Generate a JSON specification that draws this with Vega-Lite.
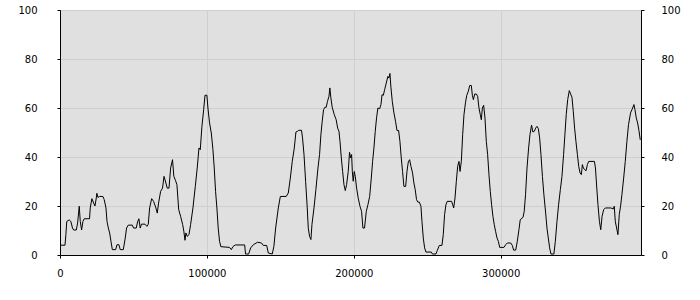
{
  "$schema": "https://vega.github.io/schema/vega-lite/v6.json",
  "width": 581,
  "height": 245,
  "autosize": "none",
  "padding": {"left": 60, "top": 10, "right": 59, "bottom": 45},
  "background": "white",
  "config": {
    "view": {"fill": "#e0e0e0", "stroke": "black", "strokeWidth": 1},
    "axis": {
      "labelFont": "DejaVu Sans",
      "labelFontSize": 10,
      "labelColor": "black",
      "domainColor": "black",
      "tickColor": "black",
      "tickSize": 3,
      "gridColor": "#cfcfcf",
      "gridWidth": 1,
      "title": null
    }
  },
  "data": {"values": [
    {"x":0,"y":4},{"x":3400,"y":4},{"x":4000,"y":8.3},{"x":4600,"y":13.7},{"x":6300,"y":14.3},{"x":7400,"y":13.7},{"x":8500,"y":11},{"x":9300,"y":10.2},{"x":11100,"y":10.2},{"x":12000,"y":13.1},{"x":13100,"y":19.9},{"x":13800,"y":13.7},{"x":14700,"y":10.2},{"x":15600,"y":13.7},{"x":16500,"y":14.8},{"x":20100,"y":14.8},{"x":20600,"y":19.2},{"x":21700,"y":23},{"x":22900,"y":21.2},{"x":23800,"y":20},{"x":24700,"y":23.3},{"x":25100,"y":25.2},{"x":25800,"y":23.5},{"x":26900,"y":23.9},{"x":29200,"y":23.9},{"x":30100,"y":22.6},{"x":31300,"y":19.2},{"x":32000,"y":13.7},{"x":32900,"y":11},{"x":33800,"y":9},{"x":34700,"y":5.6},{"x":35600,"y":2.2},{"x":37900,"y":2.2},{"x":38800,"y":4.2},{"x":40100,"y":4.2},{"x":41000,"y":2.2},{"x":43100,"y":2.2},{"x":44400,"y":6.9},{"x":45300,"y":11},{"x":46500,"y":12.2},{"x":49200,"y":12.2},{"x":50100,"y":11},{"x":51900,"y":11},{"x":52800,"y":13.5},{"x":53700,"y":14.8},{"x":54600,"y":11},{"x":55500,"y":12.6},{"x":57800,"y":12.6},{"x":59200,"y":11.7},{"x":60100,"y":12.6},{"x":61000,"y":19.2},{"x":62400,"y":23},{"x":63700,"y":21.9},{"x":65300,"y":19.2},{"x":66200,"y":17.1},{"x":67100,"y":21.2},{"x":68500,"y":26},{"x":69800,"y":27.3},{"x":70800,"y":32.1},{"x":71900,"y":29.8},{"x":73000,"y":27.3},{"x":74200,"y":27.3},{"x":75300,"y":35.5},{"x":76600,"y":38.9},{"x":77500,"y":32.1},{"x":78700,"y":30.3},{"x":79600,"y":28.7},{"x":80800,"y":18.5},{"x":82100,"y":15.8},{"x":83500,"y":12.4},{"x":84300,"y":9.7},{"x":85100,"y":6},{"x":85700,"y":9},{"x":86600,"y":7.6},{"x":87800,"y":8.3},{"x":88900,"y":12.4},{"x":90500,"y":19.2},{"x":92100,"y":28},{"x":93400,"y":35.5},{"x":94600,"y":43.7},{"x":95500,"y":43},{"x":96600,"y":52.5},{"x":97800,"y":59.3},{"x":98700,"y":65.2},{"x":100000,"y":65.2},{"x":100700,"y":60},{"x":101800,"y":53.9},{"x":103000,"y":49.8},{"x":104100,"y":43},{"x":105000,"y":35.5},{"x":105900,"y":26},{"x":106800,"y":19.2},{"x":107700,"y":11},{"x":108600,"y":5.6},{"x":109500,"y":3.4},{"x":115400,"y":3.1},{"x":116600,"y":2.2},{"x":117700,"y":3.4},{"x":119300,"y":4.1},{"x":125700,"y":4.1},{"x":126300,"y":0.4},{"x":128400,"y":0.4},{"x":129800,"y":2.9},{"x":131600,"y":4.2},{"x":134500,"y":5.2},{"x":137200,"y":4.9},{"x":138400,"y":3.9},{"x":140700,"y":3.9},{"x":141800,"y":0.8},{"x":144500,"y":0.4},{"x":145600,"y":3.5},{"x":146800,"y":11},{"x":148600,"y":19.2},{"x":150000,"y":23.9},{"x":154000,"y":23.9},{"x":155400,"y":25.3},{"x":156800,"y":31.4},{"x":158100,"y":38.2},{"x":159500,"y":43.7},{"x":160600,"y":50.2},{"x":161700,"y":50.5},{"x":162600,"y":50.9},{"x":164400,"y":50.9},{"x":165100,"y":47.8},{"x":166100,"y":41},{"x":167200,"y":30.1},{"x":168300,"y":19.2},{"x":169000,"y":11},{"x":169900,"y":7.6},{"x":170800,"y":6.3},{"x":171500,"y":12.4},{"x":172900,"y":19.2},{"x":174200,"y":26.7},{"x":175600,"y":35.5},{"x":176700,"y":41},{"x":177600,"y":49.1},{"x":178500,"y":54.6},{"x":179400,"y":59.3},{"x":180300,"y":60.3},{"x":181200,"y":60.3},{"x":182100,"y":62.7},{"x":183100,"y":64.8},{"x":183700,"y":68.2},{"x":184400,"y":64.1},{"x":185300,"y":60.3},{"x":186700,"y":57.3},{"x":188000,"y":55.2},{"x":189000,"y":51.8},{"x":189900,"y":50.5},{"x":190600,"y":46.4},{"x":191500,"y":39.6},{"x":192400,"y":34.1},{"x":193300,"y":28.7},{"x":194200,"y":26.3},{"x":195100,"y":28.7},{"x":196200,"y":34.1},{"x":197100,"y":41.9},{"x":197800,"y":39.6},{"x":198500,"y":41},{"x":199000,"y":34.1},{"x":199600,"y":30.1},{"x":200300,"y":34.1},{"x":201000,"y":32.1},{"x":201900,"y":27.3},{"x":203000,"y":23.2},{"x":204200,"y":19.9},{"x":205300,"y":17.8},{"x":206200,"y":11},{"x":207300,"y":11},{"x":208500,"y":17.8},{"x":209600,"y":20.5},{"x":210800,"y":23.9},{"x":211900,"y":31.4},{"x":212800,"y":38.2},{"x":213700,"y":43.7},{"x":214600,"y":50.5},{"x":215500,"y":56},{"x":216400,"y":60},{"x":217600,"y":59.7},{"x":218500,"y":61.4},{"x":219200,"y":65.4},{"x":220100,"y":65.2},{"x":221000,"y":67.5},{"x":222100,"y":70.2},{"x":223200,"y":72.9},{"x":223900,"y":72.2},{"x":224600,"y":74.1},{"x":225300,"y":68.2},{"x":226200,"y":62.7},{"x":227300,"y":58},{"x":228400,"y":54.6},{"x":229400,"y":50.8},{"x":230500,"y":50.8},{"x":231400,"y":46.4},{"x":232300,"y":39.6},{"x":233200,"y":34.1},{"x":234100,"y":28},{"x":235300,"y":28},{"x":236200,"y":34.1},{"x":237100,"y":38},{"x":238000,"y":38.9},{"x":238900,"y":36.2},{"x":240000,"y":33.5},{"x":240900,"y":29.4},{"x":241800,"y":26.7},{"x":242700,"y":22.6},{"x":243600,"y":21.6},{"x":244600,"y":21.6},{"x":245700,"y":19.9},{"x":246400,"y":13.7},{"x":247300,"y":6.9},{"x":248200,"y":2.9},{"x":249100,"y":1.2},{"x":252700,"y":1.2},{"x":253600,"y":0.4},{"x":255900,"y":0.4},{"x":256800,"y":1.8},{"x":258200,"y":3.9},{"x":260000,"y":3.9},{"x":260900,"y":8.3},{"x":261800,"y":16.5},{"x":262700,"y":20.5},{"x":263600,"y":21.9},{"x":266600,"y":21.9},{"x":268000,"y":19.2},{"x":268900,"y":23.3},{"x":269800,"y":30.1},{"x":270700,"y":36.2},{"x":271600,"y":38.2},{"x":272300,"y":34.1},{"x":273200,"y":38.2},{"x":274100,"y":49.1},{"x":275000,"y":57.3},{"x":276000,"y":62.1},{"x":276900,"y":65.2},{"x":278000,"y":66.9},{"x":278900,"y":69.2},{"x":280000,"y":69.2},{"x":280700,"y":65.2},{"x":281400,"y":63.4},{"x":282300,"y":65.7},{"x":283400,"y":65.7},{"x":284300,"y":64.8},{"x":285200,"y":60},{"x":286100,"y":57.3},{"x":286800,"y":55.2},{"x":287500,"y":60},{"x":288400,"y":61.1},{"x":289300,"y":55.9},{"x":290200,"y":46.4},{"x":291100,"y":41},{"x":292000,"y":32.8},{"x":292900,"y":26},{"x":293800,"y":20.5},{"x":294700,"y":15.8},{"x":295600,"y":12.4},{"x":296500,"y":9.7},{"x":297500,"y":6.9},{"x":298400,"y":5.6},{"x":299300,"y":3.1},{"x":302200,"y":3.1},{"x":303400,"y":4.2},{"x":304500,"y":4.9},{"x":306800,"y":4.9},{"x":307900,"y":3.9},{"x":308800,"y":2},{"x":310200,"y":2},{"x":311300,"y":5.6},{"x":312400,"y":10.3},{"x":313300,"y":14.4},{"x":315200,"y":15.4},{"x":316000,"y":17.8},{"x":316900,"y":24.6},{"x":317900,"y":35.5},{"x":319000,"y":43.7},{"x":319900,"y":49.1},{"x":321000,"y":53},{"x":321900,"y":50.2},{"x":322900,"y":50.5},{"x":323800,"y":51.8},{"x":324700,"y":52.5},{"x":325600,"y":51.6},{"x":326500,"y":47.8},{"x":327400,"y":41},{"x":328400,"y":32},{"x":329400,"y":24.6},{"x":330600,"y":17.1},{"x":331500,"y":11},{"x":332400,"y":6.9},{"x":333300,"y":2.9},{"x":334200,"y":0.4},{"x":336200,"y":0.4},{"x":337200,"y":5.6},{"x":338300,"y":13.7},{"x":339400,"y":20.5},{"x":340600,"y":26.7},{"x":341700,"y":32.1},{"x":342800,"y":41},{"x":343700,"y":49.1},{"x":344600,"y":57.3},{"x":345600,"y":63.4},{"x":346700,"y":67.1},{"x":347600,"y":65.7},{"x":348500,"y":64.4},{"x":349400,"y":58.7},{"x":350300,"y":51.8},{"x":351200,"y":46.4},{"x":352200,"y":41},{"x":353100,"y":36.2},{"x":354000,"y":33.5},{"x":354900,"y":32.8},{"x":355600,"y":36.9},{"x":356300,"y":35.5},{"x":357200,"y":34.8},{"x":358100,"y":34.4},{"x":359000,"y":36.9},{"x":359900,"y":38.2},{"x":363800,"y":38.2},{"x":364500,"y":35.5},{"x":365400,"y":27.3},{"x":366200,"y":20.5},{"x":367200,"y":13.7},{"x":368100,"y":10.3},{"x":369000,"y":15.8},{"x":370100,"y":18.5},{"x":371200,"y":19.2},{"x":375000,"y":19.2},{"x":376600,"y":18.8},{"x":377300,"y":19.9},{"x":378000,"y":13.7},{"x":378900,"y":11},{"x":379800,"y":8.3},{"x":380700,"y":16.5},{"x":381600,"y":19.9},{"x":382500,"y":24.6},{"x":383700,"y":31.4},{"x":384800,"y":38.2},{"x":385900,"y":46.4},{"x":387000,"y":53.2},{"x":388400,"y":58},{"x":389800,"y":60},{"x":390700,"y":61.4},{"x":391400,"y":59.3},{"x":392300,"y":55.9},{"x":393200,"y":53.9},{"x":394100,"y":50.8},{"x":395000,"y":47}
  ]},
  "resolve": {"axis": {"y": "independent"}},
  "layer": [
    {
      "mark": {"type": "line", "color": "black", "strokeWidth": 1, "interpolate": "linear"},
      "encoding": {
        "x": {"field": "x", "type": "quantitative",
              "scale": {"domain": [0, 395500], "nice": false, "zero": false},
              "axis": {"values": [0, 100000, 200000, 300000], "format": "d", "grid": true, "labelPadding": 10, "labelFlush": false}},
        "y": {"field": "y", "type": "quantitative",
              "scale": {"domain": [0, 100], "nice": false},
              "axis": {"orient": "left", "values": [0, 20, 40, 60, 80, 100], "grid": true, "labelPadding": 20}}
      }
    },
    {
      "mark": {"type": "line", "strokeOpacity": 0},
      "encoding": {
        "x": {"field": "x", "type": "quantitative"},
        "y": {"field": "y", "type": "quantitative",
              "axis": {"orient": "right", "values": [0, 20, 40, 60, 80, 100], "grid": false, "labelPadding": 17}}
      }
    }
  ]
}
